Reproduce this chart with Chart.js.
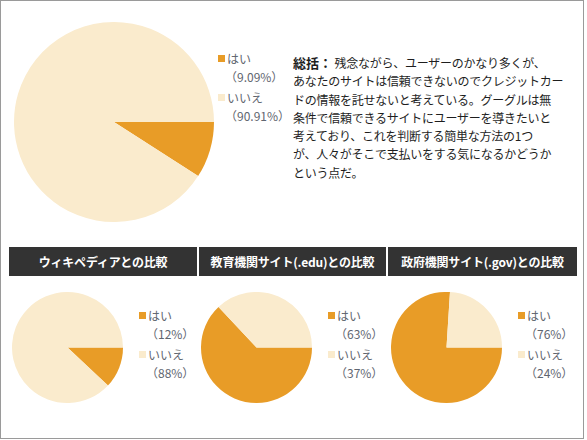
<!DOCTYPE html>
<html lang="ja">
<head>
<meta charset="utf-8">
<script src="https://cdn.jsdelivr.net/npm/chart.js@4.4.1/dist/chart.umd.min.js"></script>
<style>
    html, body { margin: 0; padding: 0; background: #fff; }
    body { width: 587px; height: 440px; position: relative; overflow: hidden;
           font-family: "Noto Sans CJK JP", "Noto Sans", sans-serif; }
    #frame { position: absolute; left: 0; top: 0; width: 582px; height: 437px; border: 1px solid #9a9a9a; }
    canvas { position: absolute; }
    .legend { position: absolute; font-size: 12px; color: #5f6670; line-height: 18px; }
    .legend .item { position: relative; padding-left: 9px; }
    .legend .sw { position: absolute; left: 0; top: 5px; width: 7px; height: 7px; }
    .legend .pct { display: block; margin-left: -2px; }
    .legend .item + .item { margin-top: 3px; }
    .header { position: absolute; top: 247px; height: 29px; background: #333333; color: #fff;
              font-weight: bold; font-size: 12px; line-height: 29px; text-align: center;
              letter-spacing: -0.2px; white-space: nowrap; }
    #summary { position: absolute; left: 293px; top: 54px; width: 285px; font-size: 12px;
               line-height: 18.3px; color: #1e1e1e; letter-spacing: -0.25px; white-space: nowrap; }
    #summary b { font-size: 13px; letter-spacing: 0; }
</style>
</head>
<body>
<div id="frame"></div>
<canvas id="mainPie" width="200" height="200" style="left:14px;top:22px;width:200px;height:200px"></canvas>
<div id="mainLegend" class="legend" style="left:218px;top:50px"></div>
<div id="summary"></div>
<div id="compare"></div>

<script>
const LABELS = ['はい', 'いいえ'];
const COLORS = ['#E89C27', '#FAEBCD'];

// 上段
const mainValues = [9.09, 90.91];
const summaryHead = '総括：';
const summaryLines = [
    ' 残念ながら、ユーザーのかなり多くが、',
    'あなたのサイトは信頼できないのでクレジットカー',
    'ドの情報を託せないと考えている。グーグルは無',
    '条件で信頼できるサイトにユーザーを導きたいと',
    '考えており、これを判断する簡単な方法の1つ',
    'が、人々がそこで支払いをする気になるかどうか',
    'という点だ。'
];

// 下段の比較
const compTitles = ['ウィキペディアとの比較', '教育機関サイト(.edu)との比較', '政府機関サイト(.gov)との比較'];
const compYes = [12, 63, 76];
const compNo = [88, 37, 24];

// レイアウト (px)
const headerX = [9, 199, 388];
const headerW = [188, 187, 189];
const pieX = [12, 201, 391];
const legendX = [139, 328, 518];

function legendHtml(values) {
    return LABELS.map((l, i) =>
        `<div class="item"><span class="sw" style="background:${COLORS[i]}"></span>${l}` +
        `<span class="pct">（${values[i]}%）</span></div>`
    ).join('');
}

function makePie(canvas, values) {
    return new Chart(canvas, {
        type: 'pie',
        data: {
            labels: LABELS,
            datasets: [{
                data: values,
                backgroundColor: COLORS,
                borderWidth: 0
            }]
        },
        options: {
            responsive: false,
            animation: false,
            rotation: 90,
            layout: { padding: 0 },
            plugins: { legend: { display: false }, tooltip: { enabled: false } }
        }
    });
}

document.getElementById('summary').innerHTML =
    `<b>${summaryHead}</b>` + summaryLines.join('<br>');

makePie(document.getElementById('mainPie'), mainValues);
document.getElementById('mainLegend').innerHTML = legendHtml(mainValues);

const wrap = document.getElementById('compare');
compTitles.forEach((t, i) => {
    const h = document.createElement('div');
    h.className = 'header';
    h.style.left = headerX[i] + 'px';
    h.style.width = headerW[i] + 'px';
    h.textContent = t;
    wrap.appendChild(h);

    const c = document.createElement('canvas');
    c.width = 111; c.height = 111;
    c.style.cssText = `left:${pieX[i]}px;top:292px;width:111px;height:111px`;
    wrap.appendChild(c);
    makePie(c, [compYes[i], compNo[i]]);

    const lg = document.createElement('div');
    lg.className = 'legend';
    lg.style.left = legendX[i] + 'px';
    lg.style.top = '307px';
    lg.innerHTML = legendHtml([compYes[i], compNo[i]]);
    wrap.appendChild(lg);
});
</script>
</body>
</html>
